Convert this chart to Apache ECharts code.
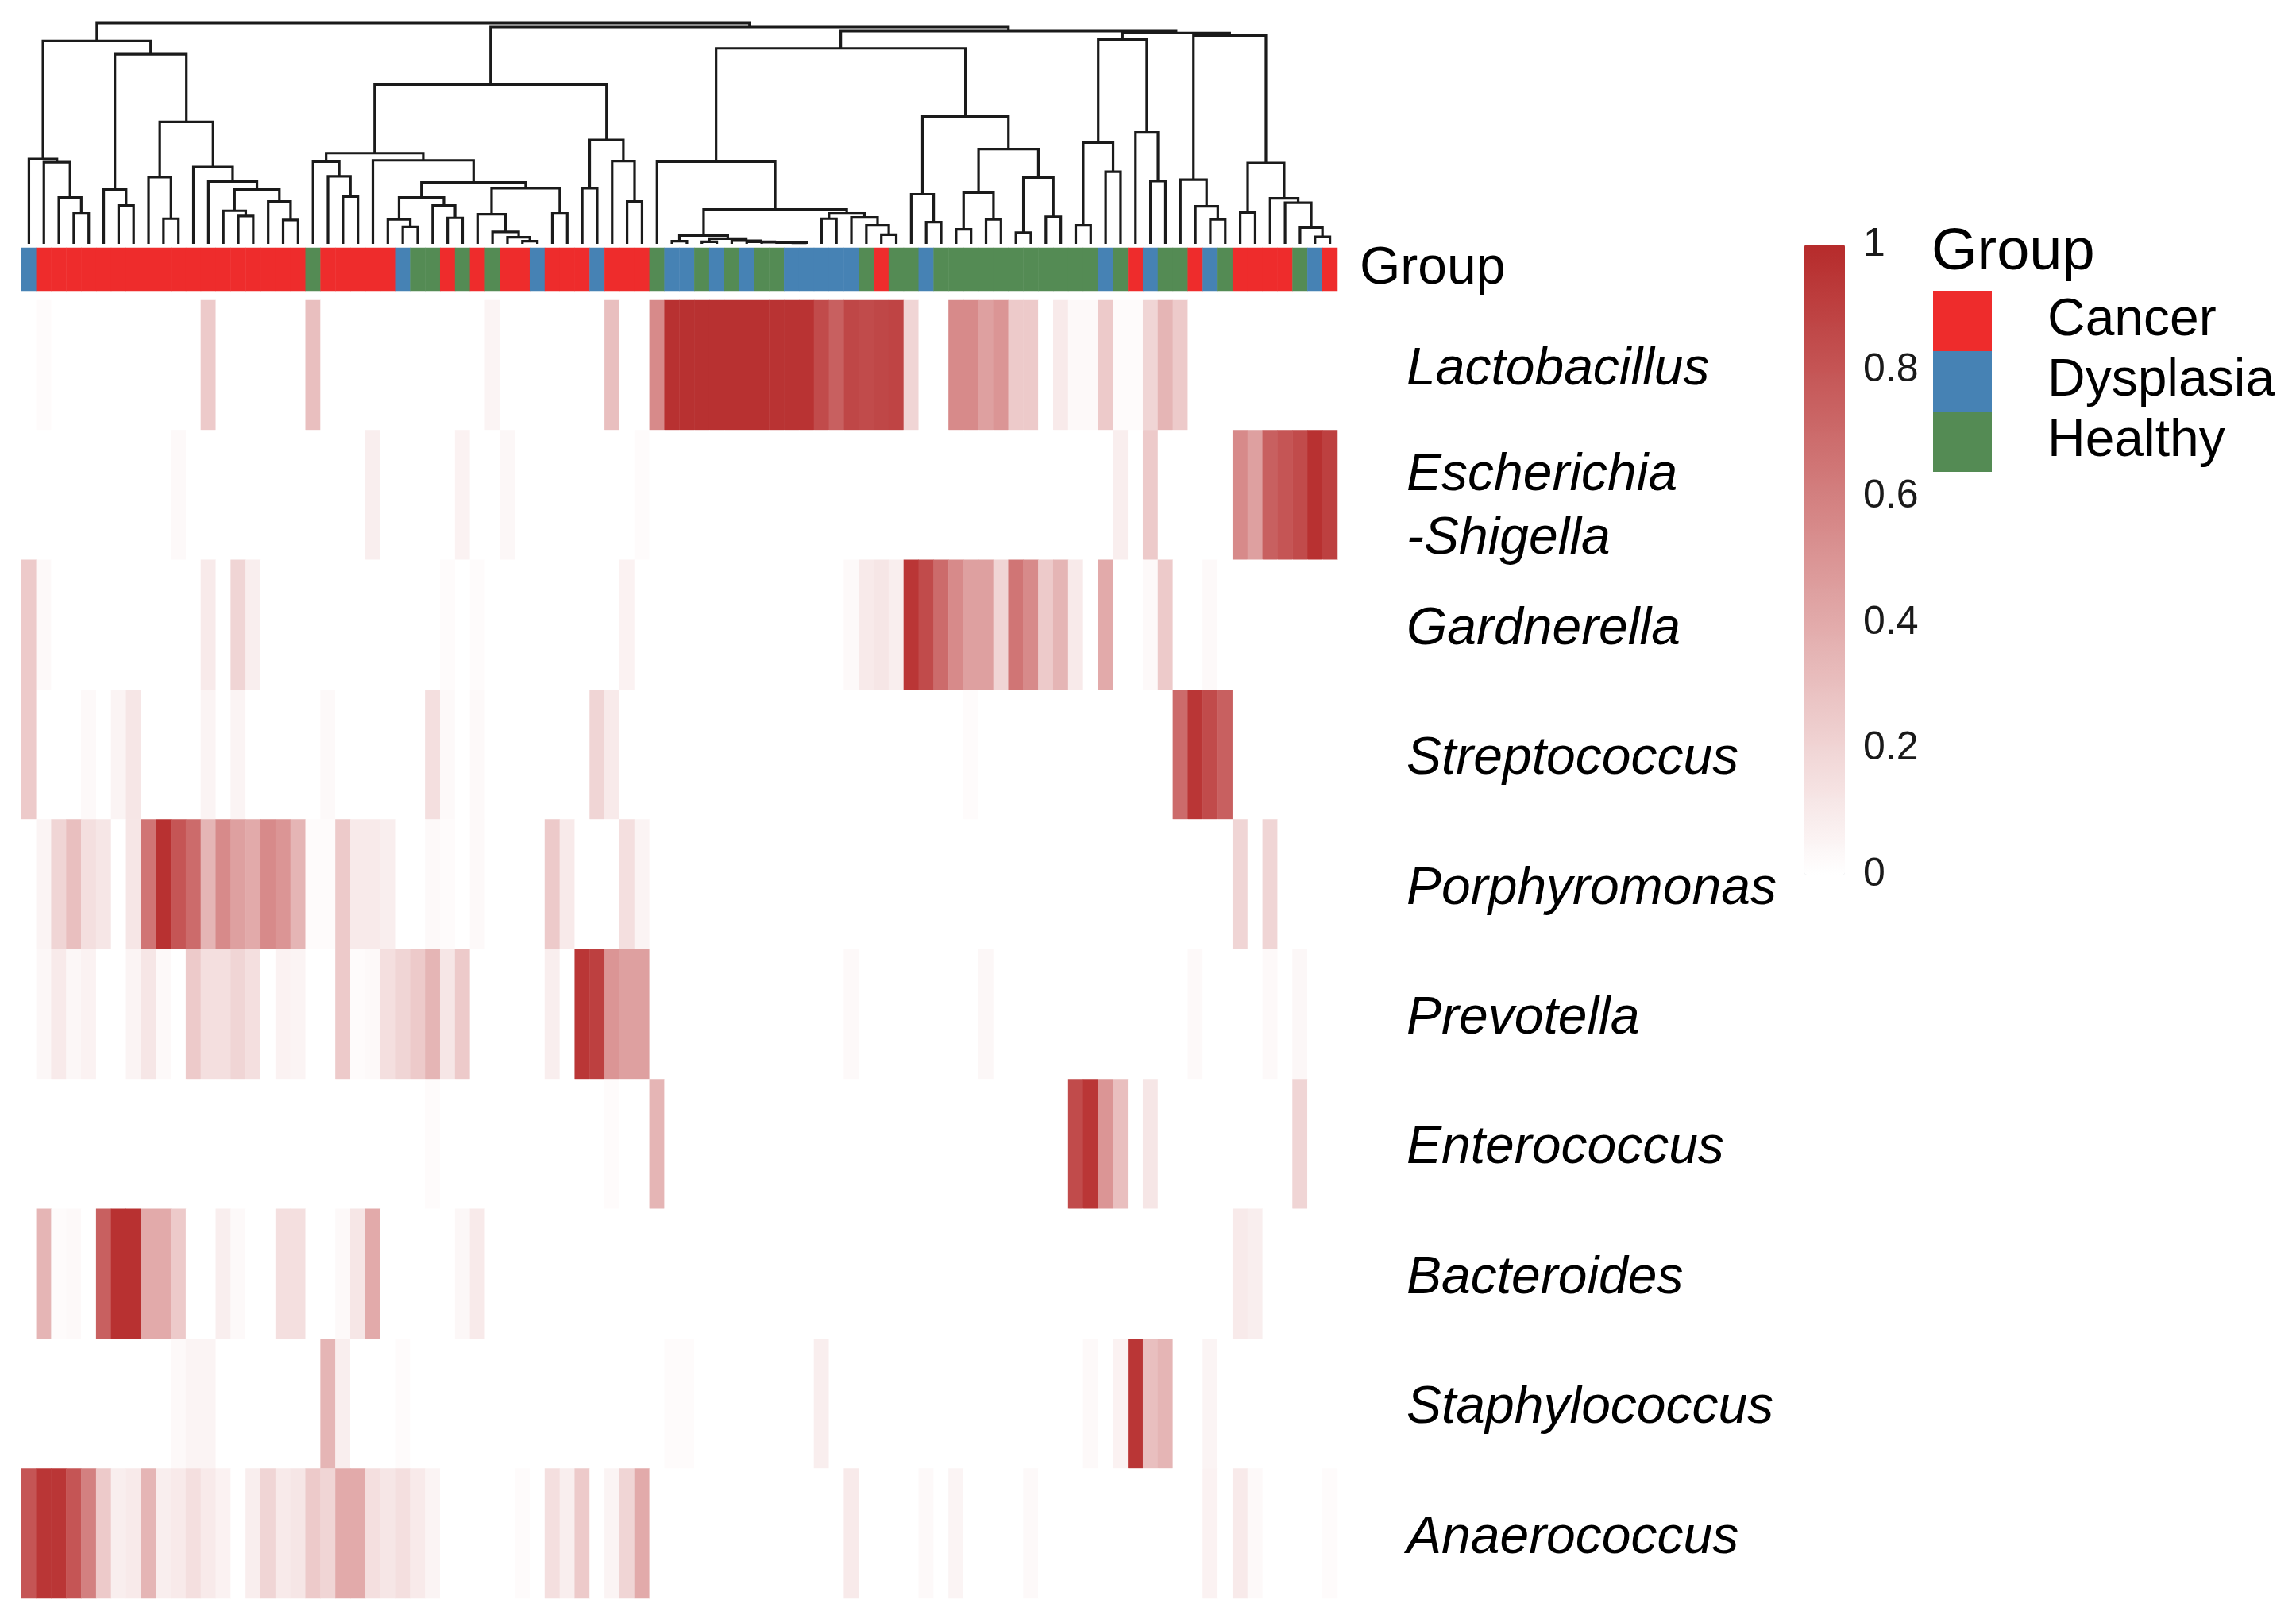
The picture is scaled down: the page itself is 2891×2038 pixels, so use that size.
<!DOCTYPE html>
<html>
<head>
<meta charset="utf-8">
<script src="https://cdn.jsdelivr.net/npm/echarts@6/dist/echarts.min.js"></script>
<style>
html,body{margin:0;padding:0;background:#fff;}
#chart{width:2891px;height:2038px;}
</style>
</head>
<body>
<div id="chart"></div>
<script>
// ---------- DATA ----------
const rowNames = ['Lactobacillus','Escherichia\n-Shigella','Gardnerella','Streptococcus','Porphyromonas','Prevotella','Enterococcus','Bacteroides','Staphylococcus','Anaerococcus'];

const groupNames = ['Cancer','Dysplasia','Healthy'];
const groupColors = ['#EE2C2C','#4682B4','#548B54'];
// sample group, in dendrogram leaf order (C=Cancer, D=Dysplasia, H=Healthy)
const sampleGroups = ['D','C','C','C','C','C','C','C','C','C',
  'C','C','C','C','C','C','C','C','C','H',
  'C','C','C','C','C','D','H','H','C','H',
  'C','H','C','C','D','C','C','C','D','C',
  'C','C','H','D','D','H','D','H','D','H',
  'H','D','D','D','D','D','H','C','H','H',
  'D','H','H','H','H','H','H','H','H','H',
  'H','H','D','H','C','D','H','H','C','D',
  'H','C','C','C','C','H','D','C'];

const lactobacillus = [0,0.02,0,0,0,0,0,0,0,0, 0,0,0.25,0,0,0,0,0,0,0.3, 0,0,0,0,0,0,0,0,0,0, 0,0.05,0,0,0,0,0,0,0,0.3, 0,0,0.55,0.97,0.97,0.97,0.97,0.97,0.97,0.97, 0.96,0.96,0.96,0.85,0.75,0.87,0.85,0.87,0.88,0.2, 0,0,0.55,0.55,0.45,0.5,0.25,0.25,0,0.1, 0.03,0.03,0.25,0.02,0.02,0.2,0.35,0.25,0,0, 0,0,0,0,0,0,0,0];
const escherichia = [0,0,0,0,0,0,0,0,0,0, 0.03,0,0,0,0,0,0,0,0,0, 0,0,0,0.08,0,0,0,0,0,0.06, 0,0,0.04,0,0,0,0,0,0,0, 0,0.02,0,0,0,0,0,0,0,0, 0,0,0,0,0,0,0,0,0,0, 0,0,0,0,0,0,0,0,0,0, 0,0,0,0.08,0,0.25,0,0,0,0, 0,0.55,0.45,0.75,0.8,0.85,0.97,0.9];
const gardnerella = [0.25,0.03,0,0,0,0,0,0,0,0, 0,0,0.1,0,0.2,0.08,0,0,0,0, 0,0,0,0,0,0,0,0,0.02,0, 0.02,0,0,0,0,0,0,0,0,0, 0.06,0,0,0,0,0,0,0,0,0, 0,0,0,0,0,0.03,0.1,0.12,0.08,0.95, 0.85,0.7,0.55,0.45,0.45,0.2,0.65,0.55,0.25,0.35, 0.1,0,0.4,0,0,0.03,0.25,0,0,0.03, 0,0,0,0,0,0,0,0];
const streptococcus = [0.25,0,0,0,0.03,0,0.05,0.12,0,0, 0,0,0.05,0,0.05,0,0,0,0,0, 0.03,0,0,0,0,0,0,0.15,0.03,0, 0.03,0,0,0,0,0,0,0,0.2,0.1, 0,0,0,0,0,0,0,0,0,0, 0,0,0,0,0,0,0,0,0,0, 0,0,0,0.02,0,0,0,0,0,0, 0,0,0,0,0,0,0,0.7,0.95,0.85, 0.75,0,0,0,0,0,0,0];
const porphyromonas = [0,0.05,0.2,0.3,0.15,0.12,0,0.12,0.65,0.97, 0.8,0.7,0.35,0.55,0.45,0.4,0.55,0.5,0.35,0.02, 0.02,0.25,0.1,0.1,0.08,0,0,0.03,0.02,0, 0.03,0,0,0,0,0.25,0.1,0,0,0, 0.15,0.05,0,0,0,0,0,0,0,0, 0,0,0,0,0,0,0,0,0,0, 0,0,0,0,0,0,0,0,0,0, 0,0,0,0,0,0,0,0,0,0, 0,0.2,0,0.2,0,0,0,0];
const prevotella = [0,0.04,0.1,0.04,0.06,0,0,0.05,0.12,0.03, 0,0.25,0.15,0.15,0.2,0.15,0,0.06,0.05,0, 0,0.25,0.02,0.03,0.15,0.2,0.25,0.35,0.12,0.25, 0,0,0,0,0,0.08,0,0.95,0.9,0.5, 0.45,0.45,0,0,0,0,0,0,0,0, 0,0,0,0,0,0.03,0,0,0,0, 0,0,0,0,0.04,0,0,0,0,0, 0,0,0,0,0,0,0,0,0.03,0, 0,0,0,0.03,0,0.04,0,0];
const enterococcus = [0,0,0,0,0,0,0,0,0,0, 0,0,0,0,0,0,0,0,0,0, 0,0,0,0,0,0,0,0.02,0,0, 0,0,0,0,0,0,0,0,0,0.02, 0,0,0.35,0,0,0,0,0,0,0, 0,0,0,0,0,0,0,0,0,0, 0,0,0,0,0,0,0,0,0,0, 0.85,0.95,0.5,0.3,0,0.12,0,0,0,0, 0,0,0,0,0,0.2,0,0];
const bacteroides = [0,0.35,0.02,0.03,0,0.75,0.97,0.97,0.4,0.4, 0.25,0,0,0.08,0.03,0,0,0.15,0.15,0, 0,0.03,0.12,0.4,0,0,0,0,0,0.04, 0.1,0,0,0,0,0,0,0,0,0, 0,0,0,0,0,0,0,0,0,0, 0,0,0,0,0,0,0,0,0,0, 0,0,0,0,0,0,0,0,0,0, 0,0,0,0,0,0,0,0,0,0, 0,0.1,0.08,0,0,0,0,0];
const staphylococcus = [0,0,0,0,0,0,0,0,0,0, 0.03,0.05,0.05,0,0,0,0,0,0,0, 0.35,0.08,0,0,0,0.02,0,0,0,0, 0,0,0,0,0,0,0,0,0,0, 0,0,0,0.02,0.02,0,0,0,0,0, 0,0,0,0.08,0,0,0,0,0,0, 0,0,0,0,0,0,0,0,0,0, 0,0.03,0,0.06,0.95,0.3,0.35,0,0,0.05, 0,0,0,0,0,0,0,0];
const anaerococcus = [0.8,0.95,0.95,0.8,0.6,0.25,0.08,0.1,0.35,0.08, 0.1,0.15,0.1,0.06,0,0.08,0.2,0.1,0.12,0.25, 0.2,0.4,0.4,0.15,0.12,0.15,0.1,0.05,0,0, 0,0,0,0.02,0,0.15,0.08,0.25,0,0.05, 0.2,0.4,0,0,0,0,0,0,0,0, 0,0,0,0,0,0.1,0,0,0,0, 0.03,0,0.05,0,0,0,0,0.03,0,0, 0,0,0,0,0,0,0,0,0,0.06, 0,0.1,0.03,0,0,0,0,0.02];

// dendrogram: [height, left, right]; numbers are leaf indices
const dendroTree = [832,
  [765,
    [320, 0, [308, 1, [175, 2, [115, 3, 4]]]],
    [715,
      [205, 5, [145, 6, 7]],
      [460,
        [252, 8, [95, 9, 10]],
        [290, 11, [235, 12, [205, [125, 13, [105, 14, 15]], [160, 16, [90, 17, 18]]]]]
      ]
    ]
  ],
  [817,
    [600,
      [342,
        [310, 19, [255, 20, [178, 21, 22]]],
        [315, 23, [232,
          [175, [92, 24, [65, 25, 26]], [145, 27, [98, 28, 29]]],
          [210, [112, 30, [45, 31, [25, 32, [10, 33, 34]]]], [115, 35, 36]]
        ]]
      ],
      [392, [210, 37, 38], [312, 39, [160, 40, 41]]]
    ],
    [802,
      [737,
        [310, 42, [130,
          [32, [10, 43, 44], [20, [8, 45, 46], [12, 47, [8, 48, [6, 49, [5, 50, [4, 51, 52]]]]]]],
          [115, [95, 53, 54], [100, 55, [70, 56, [35, 57, 58]]]]
        ]],
        [480, [187, 59, [82, 60, 61]], [357, [193, [55, 62, 63], [92, 64, 65]], [250, [42, 66, 67], [102, 68, 69]]]]
      ],
      [795,
        [770, [382, [70, 70, 71], [272, 72, 73]], [420, 74, [237, 75, 76]]],
        [785, [242, 77, [142, 78, [92, 79, 80]]], [305, [118, 81, 82], [172, 83, [155, 84, [62, 85, [27, 86, 87]]]]]]
      ]
    ]
  ]
];
const dendroMax = 832;
const colorTicks = [0, 0.2, 0.4, 0.6, 0.8, 1];

// ---------- BUILD ----------
const rows = [lactobacillus, escherichia, gardnerella, streptococcus, porphyromonas, prevotella, enterococcus, bacteroides, staphylococcus, anaerococcus];
const nCols = sampleGroups.length;
const colCats = sampleGroups.map((g, i) => 'S' + (i + 1));
const heatData = [];
rows.forEach((r, ri) => r.forEach((v, ci) => heatData.push([ci, ri, v])));
const codeIdx = {C: 0, D: 1, H: 2};
const groupData = sampleGroups.map((g, i) => [i, 0, codeIdx[g]]);

const dendroSegs = [];
function walk(node) {
  if (typeof node === 'number') return {x: node, h: 0};
  const l = walk(node[1]), r = walk(node[2]);
  dendroSegs.push([l.x, l.h, r.x, r.h, node[0]]);
  return {x: (l.x + r.x) / 2, h: node[0]};
}
walk(dendroTree);

const FONT = 'Liberation Sans, Arial, Helvetica, sans-serif';
const L = 27, W = 1657;
const itStyle = {fontSize: 66, fontStyle: 'italic', color: '#000', fontFamily: FONT, lineHeight: 80, align: 'left'};

function rowLabel(v) {
  const parts = v.split('\n');
  if (parts.length > 1) return '{sp2| }\n' + parts.map(p => '{it|' + p + '}').join('\n');
  return '{sp1| }\n{it|' + v + '}';
}

const chart = echarts.init(document.getElementById('chart'), null, {renderer: 'canvas'});
chart.setOption({
  backgroundColor: '#ffffff',
  animation: false,
  textStyle: {fontFamily: FONT},
  title: {
    text: 'Group', left: 2432, top: 282, padding: 0,
    textStyle: {fontFamily: FONT, fontSize: 74, fontWeight: 'normal', color: '#000'}
  },
  grid: [
    {left: L, width: W, top: 29, height: 278},
    {left: L, width: W, top: 312, height: 54},
    {left: L, width: W, top: 378, height: 1634},
    {left: 2272, width: 51, top: 308, height: 793}
  ],
  xAxis: [
    {gridIndex: 0, type: 'value', min: -0.5, max: nCols - 0.5, show: false},
    {gridIndex: 1, type: 'category', data: colCats, show: false},
    {gridIndex: 2, type: 'category', data: colCats, show: false},
    {gridIndex: 3, type: 'value', show: false}
  ],
  yAxis: [
    {gridIndex: 0, type: 'value', min: 0, max: dendroMax, show: false},
    {gridIndex: 1, type: 'category', data: ['Group'], position: 'right',
      axisLine: {show: false}, axisTick: {show: false},
      axisLabel: {margin: 28, fontSize: 66, color: '#000', fontFamily: FONT}},
    {gridIndex: 2, type: 'category', data: rowNames, inverse: true, position: 'right',
      axisLine: {show: false}, axisTick: {show: false},
      axisLabel: {margin: 87, align: 'left', formatter: rowLabel,
        rich: {
          it: itStyle,
          sp1: {fontSize: 10, lineHeight: 12},
          sp2: {fontSize: 10, lineHeight: 32}
        }}},
    {gridIndex: 3, type: 'value', min: 0, max: 1, interval: 0.2, position: 'right',
      axisLine: {show: false}, axisTick: {show: false}, splitLine: {show: false},
      axisLabel: {margin: 23, fontSize: 50, color: '#1a1a1a', fontFamily: FONT,
        customValues: colorTicks}}
  ],
  visualMap: [
    {type: 'continuous', seriesIndex: 2, dimension: 2, min: 0, max: 1,
      left: 2272, top: 308, itemWidth: 51, itemHeight: 793, padding: 0,
      calculable: false, showLabel: false, text: null, hoverLink: false,
      inRange: {color: ['#FFFFFF', '#B62B2B']}},
    {type: 'piecewise', seriesIndex: 1, dimension: 2, orient: 'vertical', inverse: true, align: 'left',
      left: 2434, top: 366, itemWidth: 74, itemHeight: 76, itemGap: 0, textGap: 70,
      padding: 0, itemSymbol: 'rect', selectedMode: false, hoverLink: false,
      textStyle: {fontSize: 66, color: '#000', fontFamily: FONT},
      pieces: groupNames.map((n, i) => ({value: i, label: n, color: groupColors[i]}))}
  ],
  series: [
    {type: 'custom', xAxisIndex: 0, yAxisIndex: 0, data: dendroSegs, clip: false, silent: true,
      encode: {x: [0, 2], y: [1, 3, 4]},
      renderItem: function (params, api) {
        const p1 = api.coord([api.value(0), api.value(1)]);
        const p2 = api.coord([api.value(0), api.value(4)]);
        const p3 = api.coord([api.value(2), api.value(4)]);
        const p4 = api.coord([api.value(2), api.value(3)]);
        return {type: 'polyline', shape: {points: [p1, p2, p3, p4]},
          style: {stroke: '#1a1a1a', lineWidth: 3.2, fill: null}};
      }},
    {type: 'heatmap', xAxisIndex: 1, yAxisIndex: 1, data: groupData, silent: true, progressive: 0},
    {type: 'heatmap', xAxisIndex: 2, yAxisIndex: 2, data: heatData, silent: true, progressive: 0}
  ]
});
</script>
</body>
</html>
